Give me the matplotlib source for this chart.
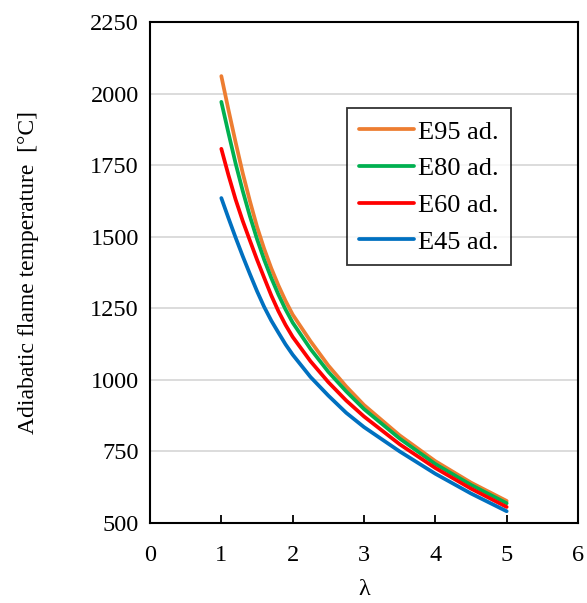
import matplotlib
matplotlib.use("Agg")
import matplotlib.pyplot as plt

plt.rcParams['font.family'] = ['Liberation Serif', 'DejaVu Serif']

# excess air ratio
lam = [1.0, 1.1, 1.2, 1.3, 1.4, 1.5, 1.6, 1.7, 1.8, 1.9, 2.0, 2.25, 2.5, 2.75, 3.0, 3.5, 4.0, 4.5, 5.0]

# adiabatic flame temperature [degC]
t_e95 = [2061, 1943, 1830, 1722, 1625, 1535, 1458, 1390, 1330, 1276, 1228, 1135, 1050, 977, 912, 806, 716, 641, 577]
t_e80 = [1971, 1862, 1756, 1660, 1572, 1492, 1420, 1356, 1298, 1246, 1200, 1108, 1028, 960, 898, 795, 706, 633, 569]
t_e60 = [1807, 1715, 1630, 1555, 1487, 1420, 1357, 1295, 1240, 1192, 1150, 1065, 992, 928, 872, 775, 692, 620, 556]
t_e45 = [1635, 1565, 1497, 1432, 1370, 1310, 1255, 1207, 1165, 1124, 1088, 1010, 945, 885, 835, 750, 672, 603, 541]

labels = ["E95 ad.", "E80 ad.", "E60 ad.", "E45 ad."]
colors = ["#ED7D31", "#00B050", "#FF0000", "#0070C0"]

fig = plt.figure(figsize=(5.87, 6.03), dpi=100)
ax = fig.add_axes([150/587, 80/603, 428/587, 501/603])

for t, lab, c in zip([t_e95, t_e80, t_e60, t_e45], labels, colors):
    ax.plot(lam, t, color=c, lw=2.7, label=lab,
            solid_capstyle='round', solid_joinstyle='round')

ax.set_xlim(0, 6)
ax.set_ylim(500, 2250)
ax.set_xticks(range(0, 7))
ax.set_yticks(range(500, 2251, 250))
ax.yaxis.grid(True, color="#D9D9D9", lw=1.3)
ax.set_axisbelow(True)
ax.tick_params(axis='x', direction='in', length=6, width=1.3, labelsize=17.5, pad=16)
ax.tick_params(axis='y', length=0, labelsize=17.5, pad=8)
for s in ax.spines.values():
    s.set_color('black')
    s.set_linewidth(1.5)

ax.set_xlabel("λ", fontsize=17.5, labelpad=9)
ax.set_ylabel("Adiabatic flame temperature  [°C]", fontsize=17, labelpad=37)

leg = ax.legend(loc='upper left', bbox_to_anchor=(0.46, 0.828), fontsize=19,
                frameon=True, fancybox=False, edgecolor='black',
                handlelength=2.1, handletextpad=0.15, borderpad=0.45,
                labelspacing=0.5, borderaxespad=0)
leg.get_frame().set_linewidth(1.3)

fig.savefig("out.png", dpi=100)
